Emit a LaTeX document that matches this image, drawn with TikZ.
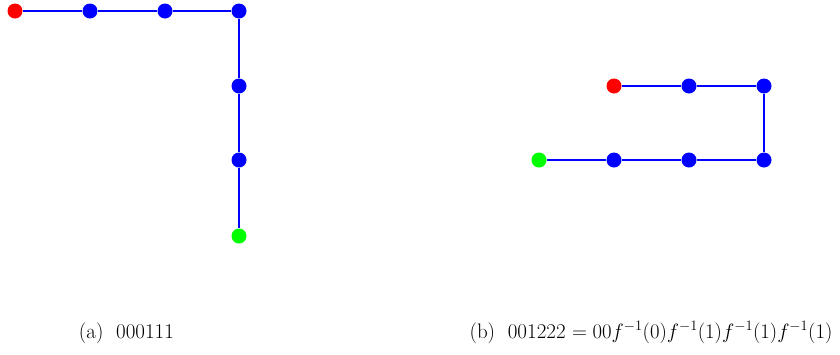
\documentclass[tikz,border=0pt]{standalone}
\usepackage{amsmath}
\definecolor{pathblue}{RGB}{0,0,255}
\definecolor{startred}{RGB}{255,0,0}
\definecolor{endgreen}{RGB}{0,255,0}
\begin{document}
\begin{tikzpicture}[x=1pt,y=-1pt,
  vtx/.style={circle,inner sep=0pt,minimum size=15pt},
  vstart/.style={vtx,fill=startred},
  vmid/.style={vtx,fill=pathblue},
  vend/.style={vtx,fill=endgreen},
  linkline/.style={draw=pathblue,line width=1.2pt},
  captext/.style={inner sep=0pt,anchor=base,font=\fontsize{21}{25}\selectfont}]
\useasboundingbox (0,0) rectangle (840,354);
% (a)
\node[vstart] (a1) at (15,11) {};
\node[vmid] (a2) at (90,11) {};
\node[vmid] (a3) at (165,11) {};
\node[vmid] (a4) at (239,11) {};
\node[vmid] (a5) at (239,86) {};
\node[vmid] (a6) at (239,160) {};
\node[vend] (a7) at (239,236) {};
\draw[linkline] (a1) -- (a2) -- (a3) -- (a4) -- (a5) -- (a6) -- (a7);
% (b)
\node[vstart] (b1) at (614,86) {};
\node[vmid] (b2) at (689,86) {};
\node[vmid] (b3) at (764,86) {};
\node[vmid] (b4) at (764,160) {};
\node[vmid] (b5) at (689,160) {};
\node[vmid] (b6) at (614,160) {};
\node[vend] (b7) at (539,160) {};
\draw[linkline] (b1) -- (b2) -- (b3) -- (b4) -- (b5) -- (b6) -- (b7);
% captions
\node[captext] (ca) at (126.5,338) {(a)\ \ 000111};
\node[captext] (cb) at (651,338) {(b)\ \ 001222 $=00f^{-1}(0)f^{-1}(1)f^{-1}(1)f^{-1}(1)$};
\end{tikzpicture}
\end{document}
